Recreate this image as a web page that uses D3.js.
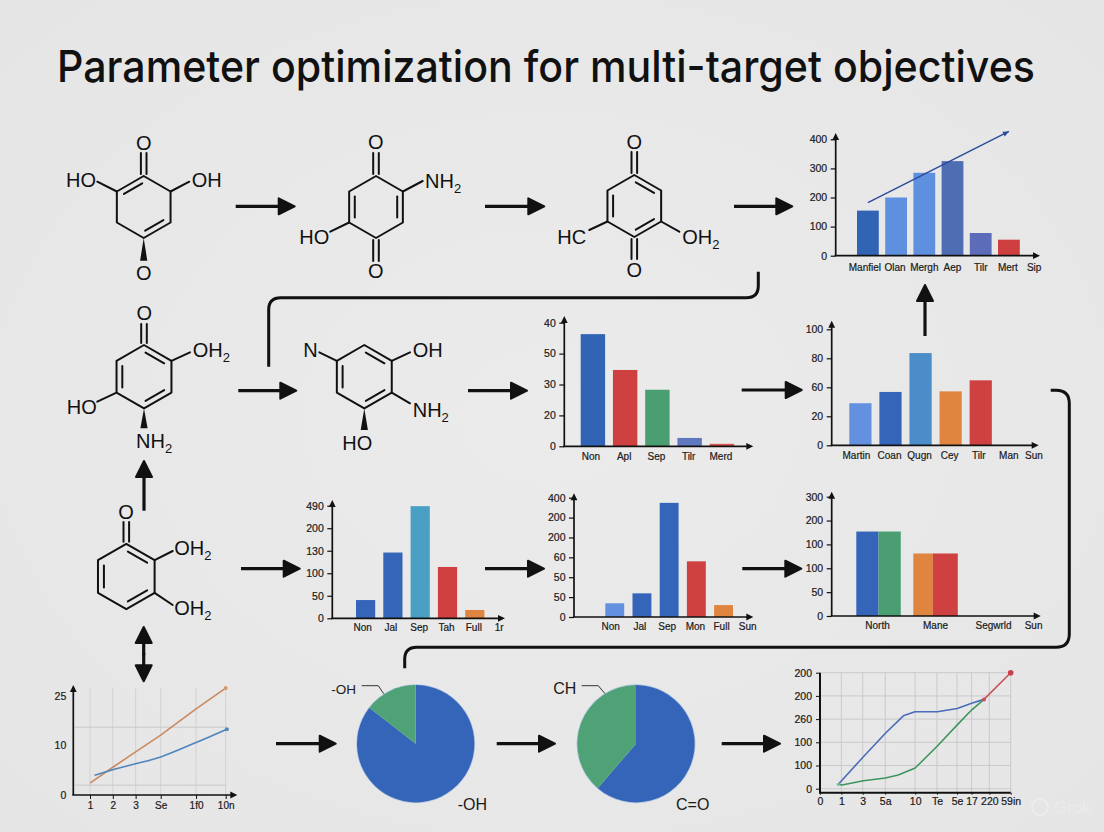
<!DOCTYPE html>
<html>
<head>
<meta charset="utf-8">
<title>Parameter optimization for multi-target objectives</title>
<script src="https://cdn.jsdelivr.net/npm/d3@7"></script>
<style>
  html, body { margin: 0; padding: 0; background: #e8e8e8; }
  svg { display: block; }
  text { font-family: "Liberation Sans", Arial, sans-serif; fill: #1a1a1a; }
  .tick text { stroke: #1a1a1a; stroke-width: 0.2px; }
</style>
</head>
<body>
<div id="chart"></div>
<script>
// Axis labels in these panels are not monotonic, so bar values are stored in axis steps
// (1 = one tick interval) and the labels are printed as they read in the picture.
const titleText = 'Parameter optimization for multi-target objectives'

const topBarCats = ['Manfiel', 'Olan', 'Mergh', 'Aep', 'Tilr', 'Mert', 'Sip']
const topBarTicks = ['0', '100', '200', '300', '400']
const topBarValues = [1.55, 2.0, 2.85, 3.25, 0.78, 0.55]
const topBarColors = ['#3264b6', '#5f8fdf', '#5f8fdf', '#4f6db2', '#5d6cb8', '#d03f3f']
const topTrendValues = [1.82, 4.27]

const midBarCats = ['Non', 'Apl', 'Sep', 'Tilr', 'Merd']
const midBarTicks = ['0', '20', '30', '50', '40']
const midBarValues = [3.63, 2.47, 1.83, 0.27, 0.08]
const midBarColors = ['#3264b6', '#cf4040', '#4a9e72', '#5f78bf', '#d9564e']

const rightBarCats = ['Martin', 'Coan', 'Qugn', 'Cey', 'Tilr', 'Man', 'Sun']
const rightBarTicks = ['0', '20', '60', '80', '100']
const rightBarValues = [1.45, 1.84, 3.18, 1.86, 2.24]
const rightBarColors = ['#6391e0', '#3565b8', '#4a8dc8', '#e08540', '#cf4040']

const lowBarCats = ['Non', 'Jal', 'Sep', 'Tah', 'Full', '1r']
const lowBarTicks = ['0', '50', '100', '130', '200', '490']
const lowBarValues = [0.81, 2.92, 4.98, 2.28, 0.37]
const lowBarColors = ['#3565b8', '#3565b8', '#4aa0c4', '#cf4040', '#e08540']

const low2BarCats = ['Non', 'Jal', 'Sep', 'Mon', 'Full', 'Sun']
const low2BarTicks = ['0', '50', '50', '60', '200', '200', '400']
const low2BarValues = [0.69, 1.19, 5.74, 2.8, 0.6]
const low2BarColors = ['#6391e0', '#3565b8', '#3565b8', '#cf4040', '#e08540']

const groupCats = ['North', 'Mane', 'Segwrld', 'Sun']
const groupTicks = ['0', '50', '100', '100', '200', '300']
const groupFirst = [3.54, 2.62]
const groupSecond = [3.54, 2.62]
const groupSplit = [0.5, 0.44]
const groupFirstColor = '#3565b8', groupSecondColor = '#4a9e72'
const groupFirstColor2 = '#e08540', groupSecondColor2 = '#cf4040'

const leftLineTicks = ['0', '10', '25']
const leftLineXPos = [1, 2, 3, 4.1, 5.65, 6.95]
const leftLineXLabels = ['1', '2', '3', 'Se', '1f0', '10n']
const leftLineGridY = [0.2, 1.37]
const leftOrangeX = [1, 2, 3, 4.1, 5.65, 6.95]
const leftOrangeY = [0.24, 0.56, 0.87, 1.21, 1.74, 2.16]
const leftBlueX = [1.2, 2, 3, 4.1, 5.65, 7]
const leftBlueY = [0.4, 0.51, 0.63, 0.77, 1.06, 1.33]

const rightLineTicks = ['0', '100', '100', '260', '200', '200']
const rightLineXPos = [0, 1, 2, 3.05, 4.45, 5.47, 6.41, 7.09, 7.92, 8.92]
const rightLineXLabels = ['0', '1', '3', '5a', '10', 'Te', '5e', '17', '220', '59in']
const rightBlueX = [0.86, 2.03, 3.06, 3.9, 4.44, 5.49, 6.42, 7.09, 7.67]
const rightBlueY = [0.19, 1.38, 2.39, 3.14, 3.32, 3.32, 3.46, 3.68, 3.85]
const rightGreenX = [0.86, 1.03, 2.03, 3.06, 3.66, 4.45, 5.49, 6.42, 7.09, 7.67]
const rightGreenY = [0.19, 0.16, 0.34, 0.46, 0.59, 0.89, 1.84, 2.75, 3.39, 3.85]
const rightRedX = [7.67, 8.92]
const rightRedY = [3.85, 5]

const pieOneValues = [85.5, 14.5]
const pieTwoValues = [61.3, 38.7]
const pieColors = ['#3565b8', '#4fa276']

const width = 1104, height = 832
const INK = '#111'

const svg = d3.select('#chart').append('svg')
  .attr('width', width).attr('height', height).attr('viewBox', `0 0 ${width} ${height}`)

const defs = svg.append('defs')
const bgGrad = defs.append('radialGradient').attr('id', 'bg').attr('r', '0.75')
bgGrad.append('stop').attr('offset', '0').attr('stop-color', '#ebebeb')
bgGrad.append('stop').attr('offset', '1').attr('stop-color', '#e5e5e5')
svg.append('rect').attr('width', width).attr('height', height).attr('fill', 'url(#bg)')

svg.append('text')
  .attr('x', 57).attr('y', 82)
  .attr('font-size', 44).attr('font-weight', 500).attr('textLength', 978).attr('lengthAdjust', 'spacingAndGlyphs')
  .style('font-family', 'Inter, "Liberation Sans", sans-serif')
  .style('fill', '#111')
  .text(titleText)

// thick flow arrows between panels
function flowArrow(x1, y1, x2, y2) {
  const len = Math.hypot(x2 - x1, y2 - y1)
  const ux = (x2 - x1) / len, uy = (y2 - y1) / len
  const headLen = 16, headW = 8
  const bx = x2 - ux * (headLen + 1), by = y2 - uy * (headLen + 1)
  const tx = x2 - ux, ty = y2 - uy
  svg.append('line').attr('x1', x1).attr('y1', y1).attr('x2', bx).attr('y2', by)
    .attr('stroke', INK).attr('stroke-width', 3.2)
  svg.append('path')
    .attr('d', d3.line()([[tx, ty], [bx - uy * headW, by + ux * headW], [bx + uy * headW, by - ux * headW]]) + 'Z')
    .attr('fill', INK).attr('stroke', INK).attr('stroke-width', 2).attr('stroke-linejoin', 'round')
}

function smallHead(g, x, y, dir) {
  const s = 3.4, l = 7
  const pts = dir === 'up'
    ? [[x, y], [x - s, y + l], [x + s, y + l]]
    : [[x, y], [x - l, y - s], [x - l, y + s]]
  g.append('path').attr('d', d3.line()(pts) + 'Z').attr('fill', INK)
}

function drawAxisFrame(g, o, y, ticks) {
  const yAxis = d3.axisLeft(y).tickValues(d3.range(ticks.length)).tickFormat(i => ticks[i])
    .tickSize(o.tickSize === undefined ? 5 : o.tickSize).tickPadding(o.tickPad === undefined ? 3.5 : o.tickPad)
  g.append('g').attr('transform', `translate(${o.axisX},0)`).call(yAxis)
    .call(s => s.select('.domain').remove())
    .call(s => s.selectAll('line').attr('stroke', INK).attr('stroke-width', 1.2))
    .call(s => s.selectAll('text').attr('font-size', 10.5).attr('font-family', null))
  g.append('line').attr('x1', o.axisX).attr('x2', o.axisX).attr('y1', o.tipY + 5).attr('y2', o.base)
    .attr('stroke', INK).attr('stroke-width', 1.7)
  g.append('line').attr('x1', o.axisX - 1).attr('x2', o.tipX - 5).attr('y1', o.base).attr('y2', o.base)
    .attr('stroke', INK).attr('stroke-width', 1.7)
  smallHead(g, o.axisX, o.tipY, 'up')
  smallHead(g, o.tipX, o.base, 'right')
}

function drawCatLabels(g, o, x) {
  g.append('g').attr('transform', `translate(0,${o.base})`)
    .call(d3.axisBottom(x).tickSize(0).tickPadding(o.catPad === undefined ? 6.5 : o.catPad))
    .call(s => s.select('.domain').remove())
    .call(s => s.selectAll('text').attr('font-size', 10).attr('font-family', null)
      .attr('dx', (d, i) => (o.labelDx ? o.labelDx[i] : 0)))
}

function drawBars(o, cats, ticks, values, colors) {
  const g = svg.append('g')
  const y = d3.scaleLinear().domain([0, ticks.length - 1]).range([o.base, o.topTick])
  const x = d3.scaleBand().domain(cats).range([o.left, o.right]).paddingInner(o.pad).paddingOuter(0)
  g.selectAll('rect').data(values).enter().append('rect')
    .attr('x', (d, i) => x(cats[i]))
    .attr('width', x.bandwidth())
    .attr('y', d => y(d))
    .attr('height', d => o.base - y(d))
    .attr('fill', (d, i) => colors[i])
  drawAxisFrame(g, o, y, ticks)
  drawCatLabels(g, o, x)
  return { g, x, y }
}

// top right chart
const topBars = drawBars({
  axisX: 835.7, base: 255.7, topTick: 139.3, tipY: 133, tipX: 1040,
  left: 857, right: 1048, pad: 0.227, catPad: 8, labelDx: [-3, -1, 0, 0, 0, -1, -3]
}, topBarCats, topBarTicks, topBarValues, topBarColors)

{
  const { g, x, y } = topBars
  const x1 = x('Manfiel') + x.bandwidth() / 2, x2 = x('Mert') + x.bandwidth() / 2
  const y1 = y(topTrendValues[0]), y2 = y(topTrendValues[1])
  g.append('line').attr('x1', x1).attr('y1', y1).attr('x2', x2).attr('y2', y2)
    .attr('stroke', '#2b4a9c').attr('stroke-width', 1.4)
  const a = Math.atan2(y2 - y1, x2 - x1), hl = 6, hw = 2.6
  const bx = x2 - Math.cos(a) * hl, by = y2 - Math.sin(a) * hl
  g.append('path')
    .attr('d', d3.line()([[x2, y2], [bx - Math.sin(a) * hw, by + Math.cos(a) * hw], [bx + Math.sin(a) * hw, by - Math.cos(a) * hw]]) + 'Z')
    .attr('fill', '#2b4a9c')
}

drawBars({
  axisX: 564.3, base: 446.3, topTick: 322.7, tipY: 316, tipX: 753.3,
  left: 580.7, right: 734.1, pad: 0.243, labelDx: [-2, -1, -1, -1, -1]
}, midBarCats, midBarTicks, midBarValues, midBarColors)

drawBars({
  axisX: 831.7, base: 445.3, topTick: 329.3, tipY: 320.7, tipX: 1038.7,
  left: 849.3, right: 1052, pad: 0.262, labelDx: [-4, -1, -1, -1, -2, -2, -7]
}, rightBarCats, rightBarTicks, rightBarValues, rightBarColors)

drawBars({
  axisX: 332.3, base: 618.3, topTick: 505.7, tipY: 500, tipX: 505,
  left: 356, right: 511.7, pad: 0.297, catPad: 5.5, labelDx: [-3, -2, -1, -1, -1, -3]
}, lowBarCats, lowBarTicks, lowBarValues, lowBarColors)

drawBars({
  axisX: 574, base: 617, topTick: 497.7, tipY: 493.3, tipX: 753.3,
  left: 605.3, right: 760.2, pad: 0.305, catPad: 6, labelDx: [-4, -2, -2, -1, -2, -3]
}, low2BarCats, low2BarTicks, low2BarValues, low2BarColors)

// side-by-side pairs on the lower right
{
  const o = { axisX: 831.7, base: 616, topTick: 496.7, tipY: 491.7, tipX: 1040.7, catPad: 6, labelDx: [-1, 0, 1, -16] }
  const g = svg.append('g')
  const y = d3.scaleLinear().domain([0, groupTicks.length - 1]).range([o.base, o.topTick])
  const x = d3.scaleBand().domain(groupCats).range([856.3, 856.3 + 57 * 3 + 44.5]).paddingInner(0.22).paddingOuter(0)
  const cols1 = [groupFirstColor, groupFirstColor2], cols2 = [groupSecondColor, groupSecondColor2]
  groupFirst.forEach((v, i) => {
    const x0 = x(groupCats[i]), bw = x.bandwidth()
    g.append('rect').attr('x', x0).attr('width', bw * groupSplit[i]).attr('y', y(v)).attr('height', o.base - y(v)).attr('fill', cols1[i])
    const s = groupSecond[i]
    g.append('rect').attr('x', x0 + bw * groupSplit[i]).attr('width', bw * (1 - groupSplit[i])).attr('y', y(s)).attr('height', o.base - y(s)).attr('fill', cols2[i])
  })
  drawAxisFrame(g, o, y, groupTicks)
  drawCatLabels(g, o, x)
}

function lineOf(g, x, y, xs, ys, color, w, curve) {
  const pts = xs.map((d, i) => [x(d), y(ys[i])])
  g.append('path').attr('d', d3.line().curve(curve)(pts))
    .attr('fill', 'none').attr('stroke', color).attr('stroke-width', w)
    .attr('stroke-linejoin', 'round')
  return pts
}

// lower left line chart
{
  const o = { axisX: 73.3, base: 795, tipY: 685, tipX: 237.3, tickSize: 0, tickPad: 7 }
  const g = svg.append('g')
  const y = d3.scaleLinear().domain([0, 2]).range([o.base, 696])
  const x = d3.scaleLinear().domain([1, 6.95]).range([90, 225.7])
  leftLineXPos.forEach(v => {
    g.append('line').attr('x1', x(v)).attr('x2', x(v)).attr('y1', 688).attr('y2', o.base)
      .attr('stroke', '#d2d2d2').attr('stroke-width', 1)
  })
  leftLineGridY.forEach(v => {
    g.append('line').attr('x1', 75).attr('x2', 225.7).attr('y1', y(v)).attr('y2', y(v))
      .attr('stroke', '#c8c8c8').attr('stroke-width', 1)
  })
  const oPts = lineOf(g, x, y, leftOrangeX, leftOrangeY, '#cb8a62', 1.6, d3.curveLinear)
  const bPts = lineOf(g, x, y, leftBlueX, leftBlueY, '#4f84bd', 1.6, d3.curveMonotoneX)
  g.append('circle').attr('cx', oPts[5][0]).attr('cy', oPts[5][1]).attr('r', 2).attr('fill', '#d9966c')
  g.append('circle').attr('cx', bPts[5][0]).attr('cy', bPts[5][1]).attr('r', 2).attr('fill', '#4f84bd')
  drawAxisFrame(g, o, y, leftLineTicks)
  g.append('g').attr('transform', `translate(0,${o.base})`)
    .call(d3.axisBottom(x).tickValues(leftLineXPos).tickFormat((d, i) => leftLineXLabels[i]).tickSize(4).tickPadding(3))
    .call(s => s.select('.domain').remove())
    .call(s => s.selectAll('line').attr('stroke', INK))
    .call(s => s.selectAll('text').attr('font-size', 10).attr('font-family', null))
}

// lower right line chart
{
  const axisX = 820, base = 792.7, top = 672.7, right = 1010.7
  const g = svg.append('g')
  const y = d3.scaleLinear().domain([0, 5]).range([788.7, top])
  const x = d3.scaleLinear().domain([0, 8.92]).range([axisX, right])
  rightLineXPos.slice(1).forEach(v => {
    g.append('line').attr('x1', x(v)).attr('x2', x(v)).attr('y1', top).attr('y2', base)
      .attr('stroke', '#cacaca').attr('stroke-width', 1)
  })
  d3.range(6).forEach(v => {
    g.append('line').attr('x1', axisX).attr('x2', right).attr('y1', y(v)).attr('y2', y(v))
      .attr('stroke', '#cacaca').attr('stroke-width', 1)
  })
  const bl = lineOf(g, x, y, rightBlueX, rightBlueY, '#4a6cb8', 1.6, d3.curveLinear)
  lineOf(g, x, y, rightGreenX, rightGreenY, '#3f9560', 1.6, d3.curveLinear)
  const rd = lineOf(g, x, y, rightRedX, rightRedY, '#c9505a', 1.6, d3.curveLinear)
  g.append('circle').attr('cx', bl[0][0]).attr('cy', bl[0][1]).attr('r', 1.6).attr('fill', '#6fbf8f')
  g.append('circle').attr('cx', rd[0][0]).attr('cy', rd[0][1]).attr('r', 2).attr('fill', '#c9505a')
  g.append('circle').attr('cx', rd[1][0]).attr('cy', rd[1][1]).attr('r', 2.8).attr('fill', '#c9404a')
  g.append('g').attr('transform', `translate(${axisX},0)`)
    .call(d3.axisLeft(y).tickValues(d3.range(6)).tickFormat(i => rightLineTicks[i]).tickSize(4).tickPadding(4))
    .call(s => s.select('.domain').remove())
    .call(s => s.selectAll('line').attr('stroke', INK))
    .call(s => s.selectAll('text').attr('font-size', 10.5).attr('font-family', null))
  g.append('line').attr('x1', axisX).attr('x2', axisX).attr('y1', top).attr('y2', base).attr('stroke', INK).attr('stroke-width', 2)
  g.append('line').attr('x1', axisX - 1).attr('x2', right).attr('y1', base).attr('y2', base).attr('stroke', INK).attr('stroke-width', 2)
  g.append('g').attr('transform', `translate(0,${base})`)
    .call(d3.axisBottom(x).tickValues(rightLineXPos).tickFormat((d, i) => rightLineXLabels[i]).tickSize(2).tickPadding(3))
    .call(s => s.select('.domain').remove())
    .call(s => s.selectAll('line').attr('stroke', INK))
    .call(s => s.selectAll('text').attr('font-size', 10.5).attr('font-family', null))
}

// pies
function drawPie(cx, cy, r, values) {
  const g = svg.append('g').attr('transform', `translate(${cx},${cy})`)
  const arc = d3.arc().innerRadius(0).outerRadius(r)
  g.append('circle').attr('r', r + 0.4).attr('fill', 'none').attr('stroke', '#b3c8e6').attr('stroke-width', 1)
  g.selectAll('path').data(d3.pie().sort(null)(values)).enter().append('path')
    .attr('d', arc).attr('fill', (d, i) => pieColors[i])
}
drawPie(415.7, 743.7, 58.7, pieOneValues)
drawPie(636, 743.7, 58.7, pieTwoValues)

function plainText(str, x, y, size, anchor) {
  svg.append('text').attr('x', x).attr('y', y).attr('font-size', size).attr('text-anchor', anchor || 'start').text(str)
}
plainText('-OH', 356, 693.7, 13.5, 'end')
plainText('-OH', 457.7, 810, 16)
plainText('CH', 553.3, 694.3, 16)
plainText('C=O', 676, 810, 16)
function leader(pts) {
  svg.append('path').attr('d', d3.line()(pts)).attr('fill', 'none').attr('stroke', '#333').attr('stroke-width', 1)
}
leader([[361.7, 685.7], [378.3, 685.7], [383.7, 693.7]])
leader([[581.7, 685.7], [598.3, 685.7], [605, 693.7]])

// rounded connectors
function connector(d) {
  svg.append('path').attr('d', d).attr('fill', 'none').attr('stroke', INK).attr('stroke-width', 3)
}
connector('M268.7,366.7 V309.7 Q268.7,297.7 280.7,297.7 H746.3 Q758.3,297.7 758.3,285.7 V271.7')
connector('M1050.7,390.3 H1056 Q1069.3,390.3 1069.3,403.6 V634 Q1069.3,647.3 1056,647.3 H416.7 Q404.7,647.3 404.7,659.3 V668.3')

// flow arrows
const flows = [
  [235.7, 206.3, 295.7, 206.3], [485, 206.3, 545.3, 206.3], [734, 206.3, 793.3, 206.3],
  [238.3, 390.7, 297.3, 390.7], [468, 390.7, 528, 390.7], [741.7, 390, 802.7, 390],
  [241, 568.7, 300.7, 568.7], [485, 568.7, 545, 568.7], [742.3, 568.7, 802.3, 568.7],
  [276, 743.7, 336.7, 743.7], [496.7, 743.7, 556, 743.7], [721.7, 743.7, 781, 743.7],
  [925, 336, 925, 284], [144, 510.7, 144, 460]
]
flows.forEach(f => flowArrow(f[0], f[1], f[2], f[3]))
flowArrow(143.7, 655, 143.7, 626)
flowArrow(143.7, 653, 143.7, 682.3)

// structure drawings: ring vertices go clockwise from the top one
function drawMolecule(m) {
  const g = svg.append('g').attr('fill', 'none').attr('stroke', INK).attr('stroke-width', 2).attr('stroke-linecap', 'round')
  const pts = d3.range(6).map(i => [m.cx + m.r * Math.sin(i * Math.PI / 3), m.cy - m.r * Math.cos(i * Math.PI / 3)])
  g.append('path').attr('d', d3.line()(pts) + 'Z').attr('stroke-linejoin', 'round')
  const inner = (p, t) => [p[0] + (m.cx - p[0]) * t, p[1] + (m.cy - p[1]) * t]
  ;(m.doubles || []).forEach(e => {
    const p = inner(pts[e], 0.21), q = inner(pts[(e + 1) % 6], 0.21)
    const a = [p[0] + (q[0] - p[0]) * 0.07, p[1] + (q[1] - p[1]) * 0.07]
    const b = [q[0] + (p[0] - q[0]) * 0.07, q[1] + (p[1] - q[1]) * 0.07]
    g.append('line').attr('x1', a[0]).attr('y1', a[1]).attr('x2', b[0]).attr('y2', b[1])
  })
  ;(m.bonds || []).forEach(b => {
    const p = pts[b.v]
    g.append('line').attr('x1', p[0]).attr('y1', p[1]).attr('x2', b.to[0]).attr('y2', b.to[1])
  })
  ;(m.carbonyl || []).forEach(b => {
    const p = pts[b.v]
    ;[-2.8, 2.8].forEach(dx => {
      g.append('line').attr('x1', p[0] + dx).attr('y1', p[1] + (b.y > p[1] ? 2 : -2)).attr('x2', p[0] + dx).attr('y2', b.y)
    })
  })
  ;(m.wedges || []).forEach(b => {
    const p = pts[b.v]
    g.append('path').attr('d', d3.line()([[p[0], p[1]], [p[0] - 3.6, b.y], [p[0] + 3.6, b.y]]) + 'Z')
      .attr('fill', INK).attr('stroke', 'none')
  })
  ;(m.labels || []).forEach(l => {
    const t = svg.append('text').attr('x', l[1]).attr('y', l[2] + 7).attr('font-size', 20)
      .attr('text-anchor', l[3] || 'start').style('fill', INK)
    const sub = l[0].endsWith('2')
    t.append('tspan').text(sub ? l[0].slice(0, -1) : l[0])
    if (sub) t.append('tspan').attr('font-size', 13).attr('dy', 5).text('2')
  })
}

drawMolecule({
  cx: 143.7, cy: 207, r: 31, doubles: [5, 2],
  bonds: [{ v: 5, to: [97.3, 181.7] }, { v: 1, to: [189.3, 181.7] }],
  carbonyl: [{ v: 0, y: 153 }], wedges: [{ v: 3, y: 260.7 }],
  labels: [['O', 143.7, 143.3, 'middle'], ['O', 143.7, 272.7, 'middle'], ['HO', 66, 180], ['OH', 191.7, 180]]
})
drawMolecule({
  cx: 376, cy: 207, r: 31, doubles: [4, 1],
  bonds: [{ v: 4, to: [330.3, 231.7] }, { v: 1, to: [422.7, 181] }],
  carbonyl: [{ v: 0, y: 153 }, { v: 3, y: 261 }],
  labels: [['O', 375.7, 142.3, 'middle'], ['O', 375.7, 271, 'middle'], ['HO', 299.3, 236.7], ['NH2', 425, 181]]
})
drawMolecule({
  cx: 634.3, cy: 206, r: 31, doubles: [0, 4, 2],
  bonds: [{ v: 4, to: [589.3, 230] }, { v: 2, to: [679.3, 231.7] }],
  carbonyl: [{ v: 0, y: 152 }, { v: 3, y: 259 }],
  labels: [['O', 634.3, 141.7, 'middle'], ['O', 634.3, 270, 'middle'], ['HC', 557.3, 236.7], ['OH2', 682.3, 236.7]]
})
drawMolecule({
  cx: 144, cy: 376.7, r: 31.7, doubles: [0, 4, 2],
  bonds: [{ v: 1, to: [190, 352.3] }, { v: 4, to: [97.3, 401.7] }],
  carbonyl: [{ v: 0, y: 324 }], wedges: [{ v: 3, y: 428.3 }],
  labels: [['O', 144.3, 312.7, 'middle'], ['OH2', 192.7, 350], ['HO', 66.7, 407.3], ['NH2', 136, 440.7]]
})
drawMolecule({
  cx: 364.3, cy: 376.7, r: 31.7, doubles: [0, 4, 2],
  bonds: [{ v: 5, to: [319.3, 352.3] }, { v: 1, to: [410, 352.3] }, { v: 2, to: [410, 403.3] }],
  wedges: [{ v: 3, y: 430 }],
  labels: [['N', 303.3, 350], ['OH', 412.7, 350], ['NH2', 412.7, 410], ['HO', 342.3, 442.7]]
})
drawMolecule({
  cx: 126.3, cy: 576.5, r: 32.7, doubles: [0, 4, 2],
  bonds: [{ v: 1, to: [172.7, 551] }, { v: 2, to: [172.7, 605] }],
  carbonyl: [{ v: 0, y: 522 }],
  labels: [['O', 126, 511.7, 'middle'], ['OH2', 174.3, 548.3], ['OH2', 174.3, 608.3]]
})

// faint corner mark
svg.append('circle').attr('cx', 1040).attr('cy', 807).attr('r', 8).attr('fill', 'none').attr('stroke', '#ececec').attr('stroke-width', 2)
svg.append('text').attr('x', 1054).attr('y', 813).attr('font-size', 17).style('fill', '#ebebeb').text('Grok')
</script>
</body>
</html>
